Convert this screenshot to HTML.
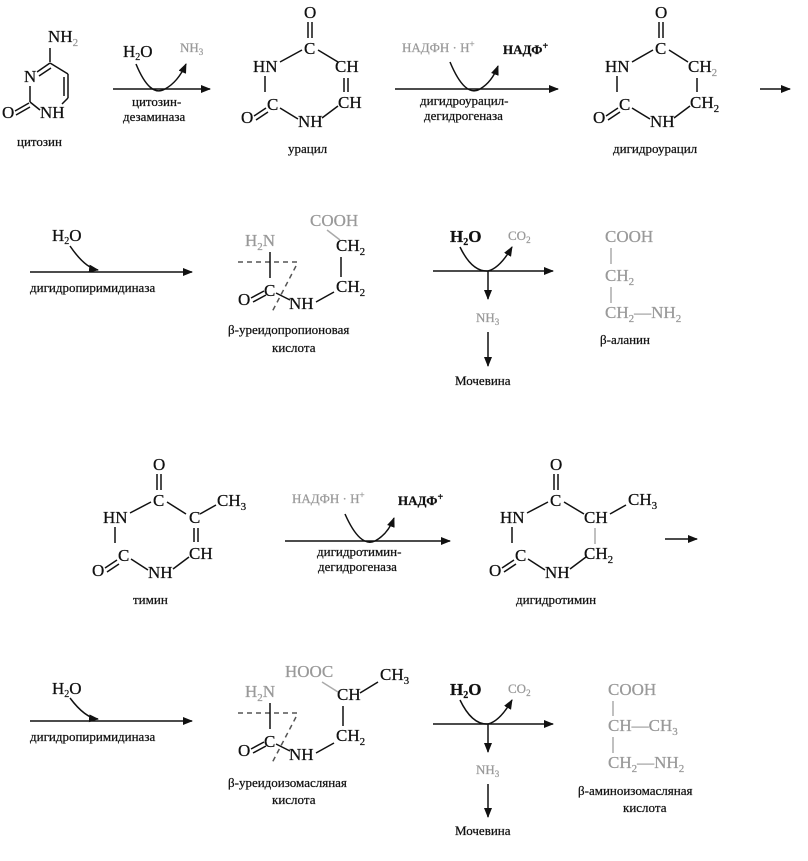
<!DOCTYPE html>
<html><head><meta charset="utf-8"><style>
html,body{margin:0;padding:0;background:#fff}
svg{display:block}
text{font-family:"Liberation Serif","DejaVu Serif",serif;fill:#111;stroke:#111;stroke-width:0.25}
.s{font-size:17px}
.l{font-size:13px}
.g{fill:#999;stroke:#999}
.b{font-weight:bold}
line,path{stroke:#111;stroke-width:1.5;fill:none}
.gl{stroke:#aaa}
.d{stroke:#555;stroke-dasharray:5,4}
</style></head><body>
<svg width="808" height="861" viewBox="0 0 808 861" xmlns="http://www.w3.org/2000/svg">
<defs><marker id="a" markerWidth="10" markerHeight="8" refX="9" refY="4" orient="auto" markerUnits="userSpaceOnUse"><path d="M0,0 L10,4 L0,8 z" style="fill:#111;stroke:none"/></marker></defs>

<!-- cytosine -->
<text class="s" x="48" y="42">NH<tspan class="g" font-size="11" dy="4">2</tspan></text>
<line x1="50" y1="48" x2="50" y2="62"/>
<text class="s" x="24" y="82">N</text>
<line x1="37" y1="72" x2="50" y2="63"/><line x1="39" y1="76" x2="51" y2="68"/>
<line x1="50" y1="63" x2="68" y2="74"/>
<line x1="68" y1="74" x2="68" y2="98"/><line x1="64" y1="77" x2="64" y2="96"/>
<line x1="68" y1="98" x2="62" y2="104"/>
<text class="s" x="40" y="118">NH</text>
<line x1="30" y1="86" x2="30" y2="102"/>
<line x1="30" y1="102" x2="40" y2="110"/>
<text class="s" x="2" y="118">O</text>
<line x1="15" y1="111" x2="29" y2="103"/><line x1="16" y1="115" x2="30" y2="107"/>
<text class="l" x="17" y="146">цитозин</text>

<!-- arrow 1 -->
<line x1="113" y1="89" x2="210" y2="89" marker-end="url(#a)"/>
<path d="M136,64 Q150,98 165,89 Q178,82 186,64" marker-end="url(#a)"/>
<text class="s" x="123" y="57" font-size="15">H<tspan font-size="10" dy="3">2</tspan><tspan dy="-3">O</tspan></text>
<text class="l g" x="180" y="52">NH<tspan font-size="9" dy="3">3</tspan></text>
<text class="l" x="132" y="106">цитозин-</text>
<text class="l" x="123" y="121">дезаминаза</text>

<!-- uracil -->
<text class="s" x="304" y="18">O</text>
<line x1="308" y1="22" x2="308" y2="38"/><line x1="312" y1="22" x2="312" y2="38"/>
<text class="s" x="304" y="54">C</text>
<text class="s" x="253" y="72">HN</text>
<line x1="280" y1="62" x2="302" y2="50"/>
<line x1="318" y1="50" x2="338" y2="62"/>
<text class="s" x="335" y="72">CH</text>
<line x1="344" y1="78" x2="344" y2="92"/><line x1="348" y1="78" x2="348" y2="92"/>
<text class="s" x="338" y="108">CH</text>
<line x1="338" y1="106" x2="322" y2="118"/>
<text class="s" x="298" y="127">NH</text>
<line x1="265" y1="76" x2="265" y2="92"/>
<text class="s" x="267" y="110">C</text>
<line x1="280" y1="108" x2="298" y2="119"/>
<text class="s" x="241" y="123">O</text>
<line x1="254" y1="116" x2="266" y2="108"/><line x1="256" y1="120" x2="268" y2="112"/>
<text class="l" x="288" y="153">урацил</text>

<!-- arrow 2 -->
<line x1="395" y1="89" x2="558" y2="89" marker-end="url(#a)"/>
<path d="M450,62 Q465,98 480,89 Q492,82 498,66" marker-end="url(#a)"/>
<text class="l g" x="402" y="52">НАДФН · Н<tspan font-size="9" dy="-5">+</tspan></text>
<text class="l b" x="503" y="54" font-size="14">НАДФ<tspan font-size="10" dy="-5">+</tspan></text>
<text class="l" x="420" y="105">дигидроурацил-</text>
<text class="l" x="424" y="120">дегидрогеназа</text>

<!-- dihydrouracil -->
<text class="s" x="655" y="18">O</text>
<line x1="659" y1="22" x2="659" y2="38"/><line x1="663" y1="22" x2="663" y2="38"/>
<text class="s" x="655" y="54">C</text>
<text class="s" x="605" y="72">HN</text>
<line x1="632" y1="62" x2="653" y2="50"/>
<line x1="669" y1="50" x2="688" y2="62"/>
<text class="s" x="688" y="72">CH<tspan class="g" font-size="11" dy="4">2</tspan></text>
<line x1="697" y1="78" x2="697" y2="92"/>
<text class="s" x="690" y="108">CH<tspan font-size="11" dy="4">2</tspan></text>
<line x1="690" y1="106" x2="674" y2="118"/>
<text class="s" x="650" y="127">NH</text>
<line x1="617" y1="76" x2="617" y2="92"/>
<text class="s" x="619" y="110">C</text>
<line x1="632" y1="108" x2="650" y2="119"/>
<text class="s" x="593" y="123">O</text>
<line x1="606" y1="116" x2="618" y2="108"/><line x1="608" y1="120" x2="620" y2="112"/>
<text class="l" x="613" y="153">дигидроурацил</text>
<line x1="760" y1="89" x2="790" y2="89" marker-end="url(#a)"/>

<!-- row 2 -->
<text class="s" x="52" y="241" font-size="15">H<tspan font-size="10" dy="3">2</tspan><tspan dy="-3">O</tspan></text>
<line x1="30" y1="272" x2="192" y2="272" marker-end="url(#a)"/>
<path d="M70,246 Q85,268 98,270" marker-end="url(#a)"/>
<text class="l" x="30" y="292">дигидропиримидиназа</text>

<text class="s g" x="310" y="226">COOH</text>
<line x1="327" y1="230" x2="340" y2="240" class="gl"/>
<text class="s" x="336" y="251">CH<tspan font-size="11" dy="4">2</tspan></text>
<line x1="341" y1="257" x2="341" y2="277"/>
<text class="s" x="336" y="292">CH<tspan font-size="11" dy="4">2</tspan></text>
<text class="s g" x="245" y="246">H<tspan font-size="11" dy="4">2</tspan><tspan dy="-4">N</tspan></text>
<line class="d" x1="238" y1="262" x2="298" y2="262"/>
<line x1="270" y1="252" x2="270" y2="278"/>
<text class="s" x="264" y="296">C</text>
<text class="s" x="238" y="305">O</text>
<line x1="251" y1="298" x2="264" y2="291"/><line x1="253" y1="302" x2="266" y2="295"/>
<line x1="276" y1="293" x2="290" y2="300"/>
<line class="d" x1="296" y1="266" x2="272" y2="312"/>
<text class="s" x="289" y="309">NH</text>
<line x1="316" y1="302" x2="334" y2="292"/>
<text class="l" x="228" y="334">β-уреидопропионовая</text>
<text class="l" x="272" y="352">кислота</text>

<line x1="433" y1="271" x2="553" y2="271" marker-end="url(#a)"/>
<path d="M460,247 Q472,272 488,271 Q500,268 512,247" marker-end="url(#a)"/>
<text class="s b" x="450" y="242" font-size="15">H<tspan font-size="10" dy="3">2</tspan><tspan dy="-3">O</tspan></text>
<text class="l g" x="508" y="240">CO<tspan font-size="9" dy="3">2</tspan></text>
<line x1="488" y1="271" x2="488" y2="299" marker-end="url(#a)"/>
<text class="l g" x="476" y="322">NH<tspan font-size="9" dy="3">3</tspan></text>
<line x1="488" y1="332" x2="488" y2="366" marker-end="url(#a)"/>
<text class="l" x="455" y="385">Мочевина</text>

<text class="s g" x="605" y="242">COOH</text>
<line class="gl" x1="611" y1="248" x2="611" y2="264"/>
<text class="s g" x="605" y="281">CH<tspan font-size="11" dy="4">2</tspan></text>
<line class="gl" x1="611" y1="287" x2="611" y2="303"/>
<text class="s g" x="605" y="318">CH<tspan font-size="11" dy="4">2</tspan><tspan dy="-4">—NH</tspan><tspan font-size="11" dy="4">2</tspan></text>
<text class="l" x="600" y="344">β-аланин</text>

<!-- thymine -->
<text class="s" x="153" y="470">O</text>
<line x1="157" y1="474" x2="157" y2="490"/><line x1="161" y1="474" x2="161" y2="490"/>
<text class="s" x="153" y="506">C</text>
<text class="s" x="103" y="523">HN</text>
<line x1="130" y1="513" x2="151" y2="502"/>
<line x1="167" y1="502" x2="186" y2="514"/>
<text class="s" x="189" y="523">C</text>
<line x1="200" y1="514" x2="216" y2="505"/>
<text class="s" x="217" y="506">CH<tspan font-size="11" dy="4">3</tspan></text>
<line x1="194" y1="528" x2="194" y2="542"/><line x1="198" y1="528" x2="198" y2="542"/>
<text class="s" x="189" y="559">CH</text>
<line x1="189" y1="557" x2="173" y2="569"/>
<text class="s" x="148" y="578">NH</text>
<line x1="115" y1="527" x2="115" y2="543"/>
<text class="s" x="118" y="561">C</text>
<line x1="131" y1="559" x2="148" y2="570"/>
<text class="s" x="92" y="576">O</text>
<line x1="105" y1="568" x2="117" y2="560"/><line x1="107" y1="572" x2="119" y2="564"/>
<text class="l" x="133" y="604">тимин</text>

<line x1="285" y1="541" x2="450" y2="541" marker-end="url(#a)"/>
<path d="M345,514 Q360,548 375,541 Q388,534 394,518" marker-end="url(#a)"/>
<text class="l g" x="292" y="503">НАДФН · Н<tspan font-size="9" dy="-5">+</tspan></text>
<text class="l b" x="398" y="505" font-size="14">НАДФ<tspan font-size="10" dy="-5">+</tspan></text>
<text class="l" x="317" y="556">дигидротимин-</text>
<text class="l" x="318" y="571">дегидрогеназа</text>

<text class="s" x="550" y="470">O</text>
<line x1="554" y1="474" x2="554" y2="490"/><line x1="558" y1="474" x2="558" y2="490"/>
<text class="s" x="550" y="506">C</text>
<text class="s" x="500" y="523">HN</text>
<line x1="527" y1="513" x2="548" y2="502"/>
<line x1="564" y1="502" x2="584" y2="514"/>
<text class="s" x="584" y="523">CH</text>
<line x1="610" y1="514" x2="626" y2="505"/>
<text class="s" x="628" y="505">CH<tspan font-size="11" dy="4">3</tspan></text>
<line x1="595" y1="528" x2="595" y2="544" class="gl"/>
<text class="s" x="584" y="559">CH<tspan font-size="11" dy="4">2</tspan></text>
<line x1="586" y1="557" x2="570" y2="569"/>
<text class="s" x="545" y="578">NH</text>
<line x1="512" y1="527" x2="512" y2="543"/>
<text class="s" x="515" y="561">C</text>
<line x1="528" y1="559" x2="545" y2="570"/>
<text class="s" x="489" y="576">O</text>
<line x1="502" y1="568" x2="514" y2="560"/><line x1="504" y1="572" x2="516" y2="564"/>
<text class="l" x="516" y="604">дигидротимин</text>
<line x1="665" y1="539" x2="697" y2="539" marker-end="url(#a)"/>

<!-- row 4 -->
<text class="s" x="52" y="694" font-size="15">H<tspan font-size="10" dy="3">2</tspan><tspan dy="-3">O</tspan></text>
<line x1="30" y1="721" x2="192" y2="721" marker-end="url(#a)"/>
<path d="M70,698 Q85,718 98,719" marker-end="url(#a)"/>
<text class="l" x="30" y="741">дигидропиримидиназа</text>

<text class="s g" x="285" y="677" font-size="15">HOOC</text>
<line class="gl" x1="322" y1="682" x2="338" y2="692"/>
<text class="s" x="337" y="700">CH</text>
<line x1="360" y1="693" x2="378" y2="682"/>
<text class="s" x="380" y="680">CH<tspan font-size="11" dy="4">3</tspan></text>
<line x1="343" y1="706" x2="343" y2="726"/>
<text class="s" x="336" y="741">CH<tspan font-size="11" dy="4">2</tspan></text>
<text class="s g" x="245" y="697">H<tspan font-size="11" dy="4">2</tspan><tspan dy="-4">N</tspan></text>
<line class="d" x1="238" y1="713" x2="298" y2="713"/>
<line x1="270" y1="703" x2="270" y2="729"/>
<text class="s" x="264" y="747">C</text>
<text class="s" x="238" y="756">O</text>
<line x1="251" y1="749" x2="264" y2="742"/><line x1="253" y1="753" x2="266" y2="746"/>
<line x1="276" y1="744" x2="290" y2="751"/>
<line class="d" x1="296" y1="717" x2="272" y2="763"/>
<text class="s" x="289" y="760">NH</text>
<line x1="316" y1="753" x2="334" y2="743"/>
<text class="l" x="228" y="787">β-уреидоизомасляная</text>
<text class="l" x="272" y="804">кислота</text>

<line x1="433" y1="724" x2="553" y2="724" marker-end="url(#a)"/>
<path d="M460,700 Q472,725 488,724 Q500,721 512,700" marker-end="url(#a)"/>
<text class="s b" x="450" y="695" font-size="15">H<tspan font-size="10" dy="3">2</tspan><tspan dy="-3">O</tspan></text>
<text class="l g" x="508" y="693">CO<tspan font-size="9" dy="3">2</tspan></text>
<line x1="488" y1="724" x2="488" y2="752" marker-end="url(#a)"/>
<text class="l g" x="476" y="774">NH<tspan font-size="9" dy="3">3</tspan></text>
<line x1="488" y1="784" x2="488" y2="817" marker-end="url(#a)"/>
<text class="l" x="455" y="835">Мочевина</text>

<text class="s g" x="608" y="695">COOH</text>
<line class="gl" x1="613" y1="701" x2="613" y2="716"/>
<text class="s g" x="608" y="731">CH—CH<tspan font-size="11" dy="4">3</tspan></text>
<line class="gl" x1="613" y1="737" x2="613" y2="753"/>
<text class="s g" x="608" y="768">CH<tspan font-size="11" dy="4">2</tspan><tspan dy="-4">—NH</tspan><tspan font-size="11" dy="4">2</tspan></text>
<text class="l" x="578" y="795">β-аминоизомасляная</text>
<text class="l" x="623" y="812">кислота</text>
</svg>
</body></html>
